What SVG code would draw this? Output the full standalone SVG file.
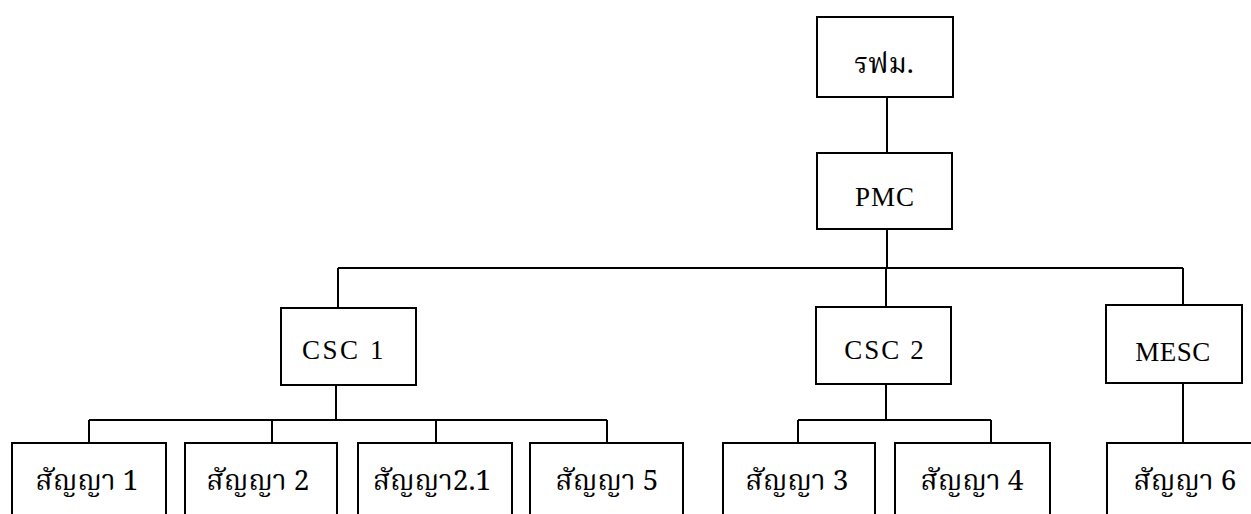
<svg xmlns="http://www.w3.org/2000/svg" width="1251" height="514" viewBox="0 0 1251 514">
  <style>
    .box { fill: #ffffff; stroke: #000000; stroke-width: 2; }
    .ln { fill: none; stroke: #000000; stroke-width: 2; }
    .lat { font-family: "Liberation Serif", "Times New Roman", serif; font-size: 27px; fill: #000; text-anchor: middle; }
    .th { font-family: "Noto Serif Thai", "Noto Sans Thai", "Liberation Serif", "DejaVu Serif", serif; font-size: 28px; fill: #000; text-anchor: middle; }
  </style>
  <rect width="1251" height="514" fill="#ffffff"/>
  <g id="connectors">
    <path class="ln" d="M887 97 V153"/>
    <path class="ln" d="M887 229 V268"/>
    <path class="ln" d="M338 268 H1183"/>
    <path class="ln" d="M338 268 V308"/>
    <path class="ln" d="M886 268 V307"/>
    <path class="ln" d="M1183 268 V305"/>
    <path class="ln" d="M336 385 V420"/>
    <path class="ln" d="M89 420 H607"/>
    <path class="ln" d="M89 420 V443"/>
    <path class="ln" d="M272 420 V443"/>
    <path class="ln" d="M436 420 V443"/>
    <path class="ln" d="M607 420 V443"/>
    <path class="ln" d="M886 384 V420"/>
    <path class="ln" d="M798 420 H991"/>
    <path class="ln" d="M798 420 V443"/>
    <path class="ln" d="M991 420 V443"/>
    <path class="ln" d="M1183 383 V443"/>
  </g>
  <g id="n-rfm">
    <rect class="box" x="817" y="17" width="136" height="80"/>
    <text class="th" x="884" y="73">รฟม.</text>
  </g>
  <g id="n-pmc">
    <rect class="box" x="817" y="153" width="135" height="76"/>
    <text class="lat" x="885" y="206" letter-spacing="1">PMC</text>
  </g>
  <g id="n-csc1">
    <rect class="box" x="281" y="308" width="135" height="77"/>
    <text class="lat" x="344" y="359" letter-spacing="2.5">CSC 1</text>
  </g>
  <g id="n-csc2">
    <rect class="box" x="816" y="307" width="135" height="77"/>
    <text class="lat" x="885" y="359" letter-spacing="2">CSC 2</text>
  </g>
  <g id="n-mesc">
    <rect class="box" x="1106" y="305" width="136" height="78"/>
    <text class="lat" x="1173" y="361" letter-spacing="0.5">MESC</text>
  </g>
  <g id="n-c1">
    <rect class="box" x="12" y="443" width="154" height="90"/>
    <text class="th" x="87" y="490">สัญญา 1</text>
  </g>
  <g id="n-c2">
    <rect class="box" x="185" y="443" width="152" height="90"/>
    <text class="th" x="258" y="490">สัญญา 2</text>
  </g>
  <g id="n-c21">
    <rect class="box" x="358" y="443" width="154" height="90"/>
    <text class="th" x="432" y="490">สัญญา2.1</text>
  </g>
  <g id="n-c5">
    <rect class="box" x="530" y="443" width="153" height="90"/>
    <text class="th" x="607" y="490">สัญญา 5</text>
  </g>
  <g id="n-c3">
    <rect class="box" x="723" y="443" width="152" height="90"/>
    <text class="th" x="797" y="490">สัญญา 3</text>
  </g>
  <g id="n-c4">
    <rect class="box" x="895" y="443" width="155" height="90"/>
    <text class="th" x="972" y="490">สัญญา 4</text>
  </g>
  <g id="n-c6">
    <rect class="box" x="1107" y="443" width="160" height="90"/>
    <text class="th" x="1185" y="490">สัญญา 6</text>
  </g>
</svg>
